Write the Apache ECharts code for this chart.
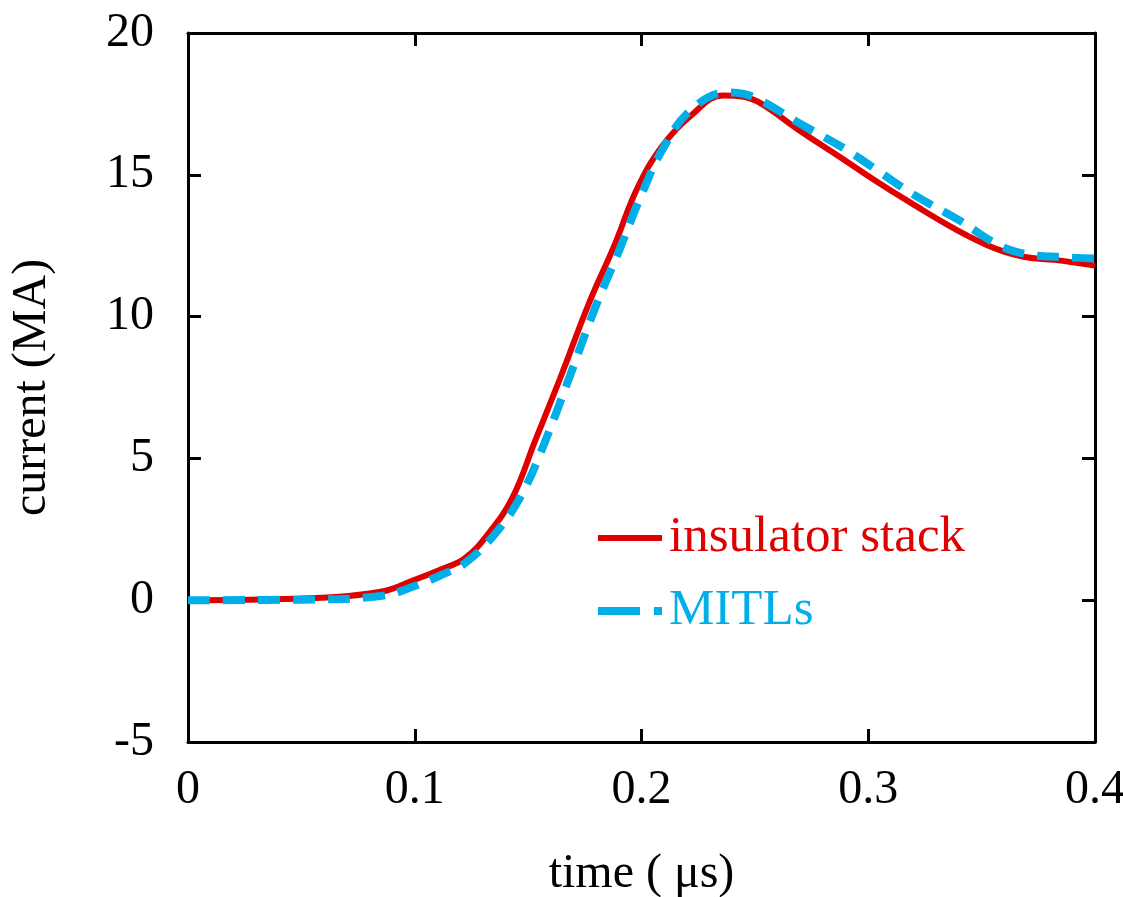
<!DOCTYPE html>
<html><head><meta charset="utf-8">
<script src="https://cdn.jsdelivr.net/npm/echarts@6/dist/echarts.min.js"></script>
<style>html,body{margin:0;padding:0;background:#fff}#c{width:1123px;height:897px}</style>
</head><body><div id="c"></div>
<script>
const seriesNames = ['insulator stack', 'MITLs'];
const insulatorT = [0, 0.048, 0.085, 0.1, 0.112, 0.122, 0.132, 0.143, 0.153, 0.164, 0.177, 0.188, 0.198, 0.209, 0.222, 0.236, 0.245, 0.253, 0.269, 0.288, 0.303, 0.319, 0.338, 0.356, 0.369, 0.382, 0.4];
const insulatorI = [0, 0.05, 0.3, 0.72, 1.1, 1.47, 2.3, 3.6, 5.6, 7.8, 10.5, 12.5, 14.5, 16.0, 17.1, 17.8, 17.75, 17.5, 16.6, 15.6, 14.8, 14.0, 13.1, 12.4, 12.1, 12.0, 11.8];
const mitlT = [0, 0.05, 0.085, 0.1, 0.112, 0.122, 0.135, 0.147, 0.157, 0.167, 0.18, 0.19, 0.2, 0.21, 0.222, 0.238, 0.245, 0.253, 0.27, 0.29, 0.305, 0.32, 0.34, 0.358, 0.37, 0.385, 0.4];
const mitlI = [0, 0.02, 0.15, 0.5, 0.9, 1.3, 2.3, 3.7, 5.5, 7.6, 10.4, 12.3, 14.3, 16.0, 17.3, 17.9, 17.85, 17.6, 16.8, 15.9, 15.1, 14.3, 13.4, 12.5, 12.2, 12.1, 12.05];
const xTicks = [0, 0.1, 0.2, 0.3, 0.4];
const yTicks = [-5, 0, 5, 10, 15, 20];
const colors = ['#e00000', '#00aee8'];

const font = '"Liberation Serif", serif';
const pair = (a, b) => a.map((v, i) => [v, b[i]]);
const axBase = {
  type: 'value',
  axisLine: {show: true, onZero: false, lineStyle: {color: '#000', width: 3}},
  axisTick: {show: true, inside: true, length: 13, lineStyle: {color: '#000', width: 3}},
  splitLine: {show: false}
};
const chart = echarts.init(document.getElementById('c'));
chart.setOption({
  animation: false,
  grid: {left: 188, right: 28, top: 33, bottom: 155, containLabel: false, outerBoundsMode: 'none'},
  xAxis: [
    Object.assign({}, axBase, {min: xTicks[0], max: xTicks[xTicks.length-1], interval: 0.1, position: 'bottom',
      name: 'time ( μs)', nameLocation: 'middle', nameGap: 108,
      nameTextStyle: {fontFamily: font, fontSize: 48, color: '#000'},
      axisLabel: {fontFamily: font, fontSize: 48, color: '#000', margin: 24, formatter: v => String(+v.toFixed(1))}}),
    Object.assign({}, axBase, {min: 0, max: 0.4, interval: 0.1, position: 'top', axisLabel: {show: false}})
  ],
  yAxis: [
    Object.assign({}, axBase, {min: yTicks[0], max: yTicks[yTicks.length-1], interval: 5, position: 'left',
      name: 'current (MA)', nameLocation: 'middle', nameGap: 132, nameRotate: 90,
      nameTextStyle: {fontFamily: font, fontSize: 48, color: '#000'},
      axisLabel: {fontFamily: font, fontSize: 48, color: '#000', margin: 34}}),
    Object.assign({}, axBase, {min: -5, max: 20, interval: 5, position: 'right', axisLabel: {show: false}})
  ],
  graphic: [
    {type: 'line', shape: {x1: 598, y1: 538, x2: 662, y2: 538}, style: {stroke: colors[0], lineWidth: 6}},
    {type: 'text', left: 669, top: 512, style: {text: seriesNames[0], fill: colors[0], font: '51px "Liberation Serif", serif'}},
    {type: 'line', shape: {x1: 598, y1: 611, x2: 662, y2: 611}, style: {stroke: colors[1], lineWidth: 8, lineDash: [42, 14]}},
    {type: 'text', left: 669, top: 585, style: {text: seriesNames[1], fill: colors[1], font: '51px "Liberation Serif", serif'}}
  ],
  series: [
    {name: seriesNames[0], type: 'line', data: pair(insulatorT, insulatorI), smooth: 0.4, symbol: 'none',
      lineStyle: {color: colors[0], width: 6}, itemStyle: {color: colors[0]}, z: 2},
    {name: seriesNames[1], type: 'line', data: pair(mitlT, mitlI), smooth: 0.4, symbol: 'none',
      lineStyle: {color: colors[1], width: 8, type: [22, 13]}, itemStyle: {color: colors[1]}, z: 3}
  ]
});
</script></body></html>
